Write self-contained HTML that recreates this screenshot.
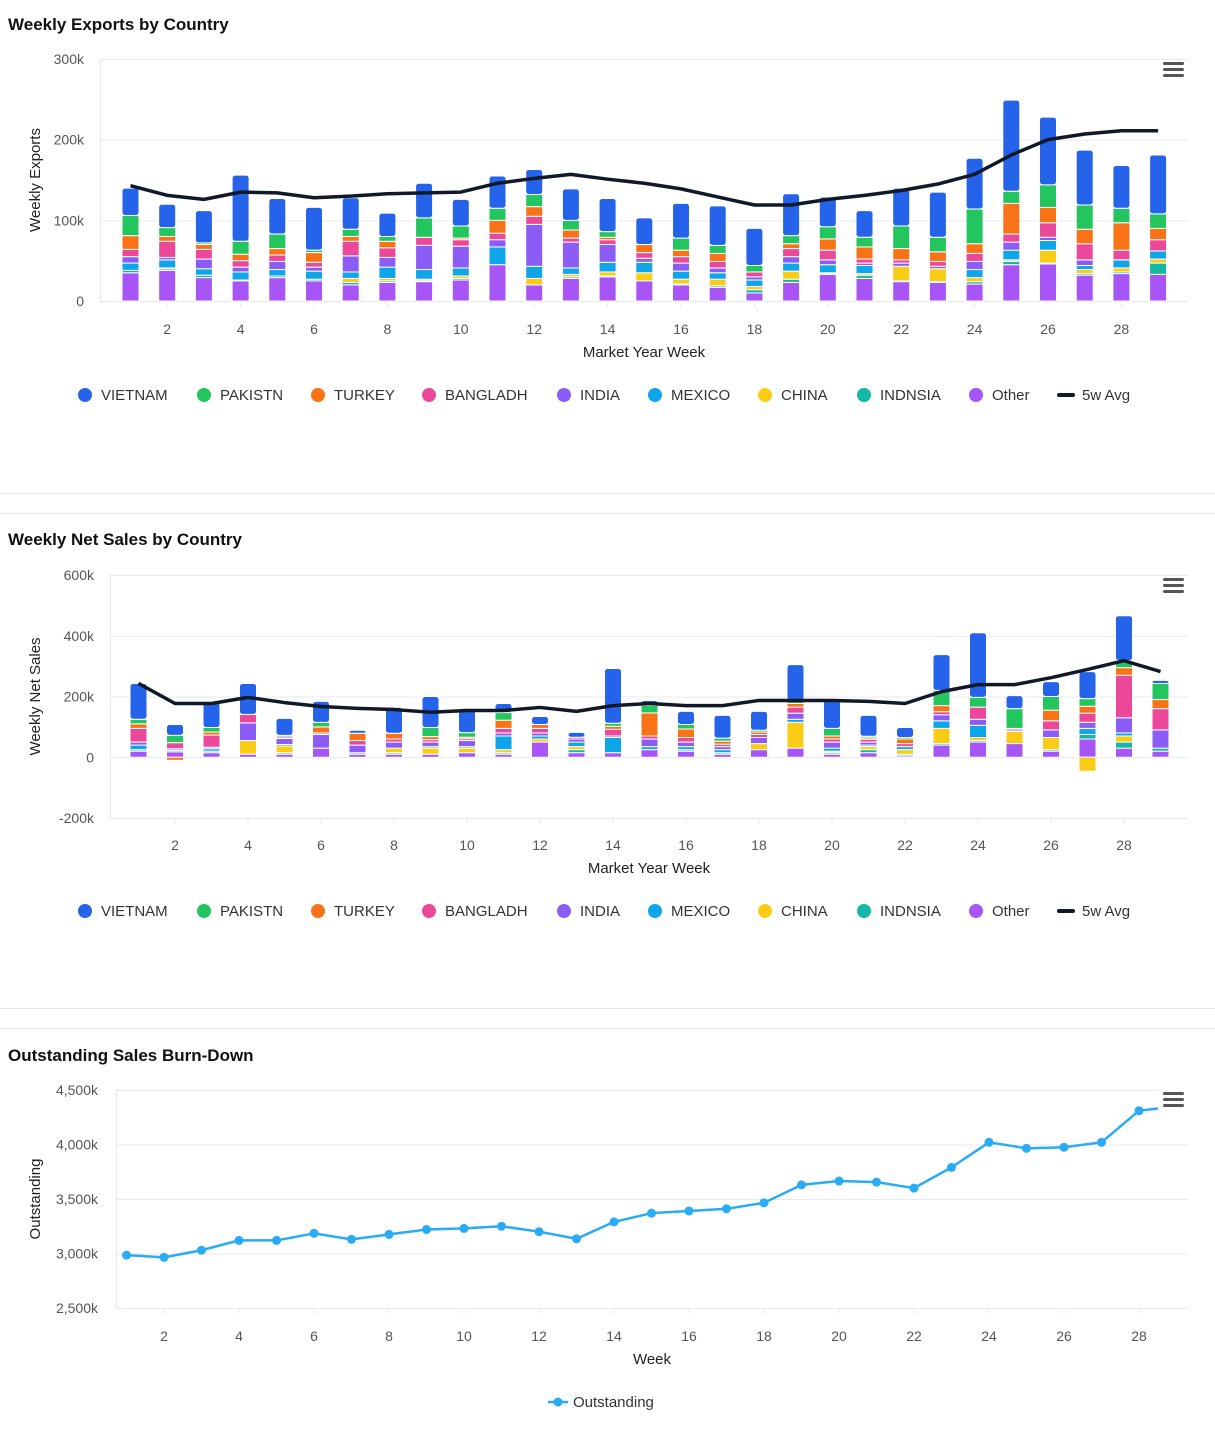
<!DOCTYPE html>
<html><head><meta charset="utf-8">
<style>
body{margin:0;background:#fff;font-family:"Liberation Sans",sans-serif;}
svg{display:block}
text{font-family:"Liberation Sans",sans-serif;}
</style></head>
<body>
<svg id="root" width="1215" height="1435" viewBox="0 0 1215 1435">
<line x1="0" y1="493.5" x2="1215" y2="493.5" stroke="#e5e7eb"/>
<line x1="0" y1="513.5" x2="1215" y2="513.5" stroke="#e5e7eb"/>
<line x1="0" y1="1008.5" x2="1215" y2="1008.5" stroke="#e5e7eb"/>
<line x1="0" y1="1028.5" x2="1215" y2="1028.5" stroke="#e5e7eb"/>
</svg>
<script>
const weeks=[1,2,3,4,5,6,7,8,9,10,11,12,13,14,15,16,17,18,19,20,21,22,23,24,25,26,27,28,29];
const seriesNames=["Other","INDNSIA","CHINA","MEXICO","INDIA","BANGLADH","TURKEY","PAKISTN","VIETNAM"];
const legendNames=["VIETNAM","PAKISTN","TURKEY","BANGLADH","INDIA","MEXICO","CHINA","INDNSIA","Other"];
const colors={VIETNAM:"#2563eb",PAKISTN:"#22c55e",TURKEY:"#f97316",BANGLADH:"#ec4899",INDIA:"#8b5cf6",MEXICO:"#0ea5e9",CHINA:"#facc15",INDNSIA:"#14b8a6",Other:"#a855f7"};
// Chart 1: weekly exports (k)
const ex_Other=[35,38,29,25,29,25,20,23,24,26,45,20,28,30,25,20,17,10,23,33,28,24,23,21,45,46,32,34,33];
const ex_INDNSIA=[3,2,3,1,2,2,3,2,1,2,0,0,2,1,0,1,2,4,4,1,4,1,1,3,4,1,2,2,14];
const ex_CHINA=[0,1,0,0,0,0,5,3,2,3,0,8,3,5,10,6,8,4,10,1,2,18,16,5,2,16,5,5,5];
const ex_MEXICO=[9,10,8,10,8,10,8,14,12,10,22,15,8,12,13,10,8,8,10,10,10,0,0,10,12,12,5,10,10];
const ex_INDIA=[8,3,12,6,10,5,20,12,30,27,9,52,32,22,5,10,6,4,8,6,3,4,3,10,10,4,7,0,0];
const ex_BANGLADH=[9,20,12,8,8,6,18,12,10,8,8,10,5,6,7,8,8,6,10,12,5,4,6,10,10,18,20,12,14];
const ex_TURKEY=[17,6,6,8,8,12,6,8,0,2,16,12,10,3,10,8,10,0,6,14,15,14,12,12,38,19,18,34,14];
const ex_PAKISTN=[25,11,2,16,18,3,9,6,24,15,15,15,12,7,0,15,10,8,10,15,12,28,18,43,15,28,30,18,18];
const ex_VIETNAM=[34,29,40,82,44,53,39,29,43,33,40,31,39,41,33,43,49,46,52,37,33,47,56,63,113,84,68,53,73];
const ex_avg=[143,131,126,135,134,128,130,133,134,135,146,152,157,151,146,139,129,119,119,126,131,137,145,157,181,200,207,211,211];
const ex_ticks=[0,100,200,300];
// Chart 2: weekly net sales (k)
const ns_Other=[20,18,15,10,10,30,10,10,10,15,10,50,15,15,25,20,10,25,30,10,15,5,40,50,45,20,60,30,20];
const ns_INDNSIA=[5,0,5,0,5,0,0,5,0,0,5,0,10,0,0,5,5,0,0,5,10,5,5,5,0,5,15,20,10];
const ns_CHINA=[0,0,0,45,22,0,0,15,20,15,10,10,10,0,0,0,0,20,85,5,10,15,50,10,40,40,-46,20,0];
const ns_MEXICO=[15,5,8,0,5,0,5,0,5,5,45,10,15,50,10,10,10,0,10,10,5,10,25,40,0,0,20,10,0];
const ns_INDIA=[10,5,5,58,20,45,25,20,15,20,10,10,10,5,25,15,10,20,20,20,10,0,20,20,5,25,20,50,60];
const ns_BANGLADH=[45,20,40,28,5,5,15,10,8,6,15,15,6,22,10,15,8,10,20,10,9,10,10,40,5,30,30,140,70];
const ns_TURKEY=[15,-10,10,0,0,20,24,19,10,5,27,13,0,10,76,28,10,8,12,10,5,15,20,0,0,35,23,25,30];
const ns_PAKISTN=[15,24,15,0,5,15,0,0,30,15,25,0,0,10,25,15,10,6,10,25,5,5,50,32,65,45,25,23,53];
const ns_VIETNAM=[118,36,82,102,56,69,10,85,102,80,30,26,16,180,16,43,75,62,118,95,69,33,118,213,43,49,89,148,10];
const ns_avg=[243,177,177,197,180,167,161,157,148,154,154,164,151,170,177,170,170,187,187,187,184,177,216,239,239,262,289,318,282];
const ns_ticks=[-200,0,200,400,600];
// Chart 3: outstanding (k)
const out_vals=[2985,2965,3030,3120,3120,3185,3130,3175,3220,3230,3250,3200,3135,3290,3370,3390,3410,3465,3630,3665,3655,3600,3790,4020,3965,3975,4020,4310,4350];
const out_ticks=[2500,3000,3500,4000,4500];
const xTicks=[2,4,6,8,10,12,14,16,18,20,22,24,26,28];

const NS="http://www.w3.org/2000/svg";
const root=document.getElementById('root');
function el(tag,attrs,parent,txt){const e=document.createElementNS(NS,tag);for(const k in attrs)e.setAttribute(k,attrs[k]);if(txt!==undefined)e.textContent=txt;(parent||root).appendChild(e);return e;}
function fmtK(v){return v===0?"0":v+"k";}
function fmtComma(v){return (v/1000).toFixed(3).replace('.',',')+"k";}

function menu(x,y,name){
  const g=el('g',{});
  
  
  for(let i=0;i<3;i++)el('rect',{x:x,y:y+i*6,width:21,height:3,rx:1.5,fill:'#555'},g);
}

function stackedChart(cfg){
  const {top,bottom,left,right,x1,step,ymin,ymax,ticks,series,avg,title,ytitle,titleY,prefix,legendY,xlabY,xtitleY}=cfg;
  const ys=v=>bottom-(v-ymin)/(ymax-ymin)*(bottom-top);
  const xs=w=>x1+(w-1)*step;
  el('text',{x:8,y:titleY,'font-size':17,'font-weight':'bold',fill:'#111',},null,title);
  const grid=el('g',{});
  ticks.forEach(t=>{
    el('line',{x1:left,x2:right,y1:ys(t)+.5,y2:ys(t)+.5,stroke:'#e5e9f2'},grid);
    const tl=el('text',{x:left-16,y:ys(t)+5,'text-anchor':'end','font-size':14,fill:'#555'},null,fmtK(t));
    
    
  });
  el('line',{x1:left+.5,x2:left+.5,y1:top,y2:bottom,stroke:'#e5e9f2'},grid);
  el('line',{x1:left,x2:right,y1:bottom+.5,y2:bottom+.5,stroke:'#e5e9f2'},grid);
  xTicks.forEach(w=>{
    el('line',{x1:xs(w),x2:xs(w),y1:bottom,y2:bottom+6,stroke:'#e5e9f2'},grid);
    const tl=el('text',{x:xs(w),y:xlabY,'text-anchor':'middle','font-size':14,fill:'#555'},null,String(w));
    
    
  });
  el('text',{x:(left+right)/2,y:xtitleY,'text-anchor':'middle','font-size':15,fill:'#222',},null,'Market Year Week');
  el('text',{transform:`translate(40,${(top+bottom)/2}) rotate(-90)`,'text-anchor':'middle','font-size':15,fill:'#222',},null,ytitle);
  const bw=17;
  weeks.forEach((w,i)=>{
    let pos=0,neg=0;
    const g=el('g',{});
    
    
    seriesNames.forEach((s,si)=>{
      const v=series[s][i]; if(!v)return;
      let y0,y1;
      if(v>0){y0=ys(pos);pos+=v;y1=ys(pos);}else{y0=ys(neg);neg+=v;y1=ys(neg);}
      const r=el('rect',{x:xs(w)-bw/2,y:Math.min(y0,y1),width:bw,height:Math.abs(y1-y0),fill:colors[s],stroke:'#fff','stroke-width':1,rx:(s==='VIETNAM'?3:0)},g);
      
      
    });
  });
  const d=avg.map((v,i)=>(i?'L':'M')+xs(weeks[i])+','+ys(v)).join(' ');
  const p=el('path',{d:d,fill:'none',stroke:'#111827','stroke-width':3.5,'stroke-linejoin':'round'});
  
  
  menu(1163,top+3,prefix+'-menu-button');
  const lg=el('g',{});
  
  
  const lx=[85,204,318,429,564,655,765,864,976,1066];
  legendNames.forEach((n,i)=>{
    const it=el('g',{},lg);
    
    
    el('circle',{cx:lx[i],cy:legendY-5,r:7,fill:colors[n]},it);
    el('text',{x:lx[i]+16,y:legendY,'font-size':15,fill:'#333'},it,n);
  });
  const it=el('g',{},lg);
  
  
  el('rect',{x:lx[9]-9,y:legendY-7,width:18,height:4,rx:2,fill:'#111827'},it);
  el('text',{x:lx[9]+16,y:legendY,'font-size':15,fill:'#333'},it,'5w Avg');
}

stackedChart({top:59,bottom:301,left:100,right:1188,x1:130.5,step:36.7,ymin:0,ymax:300,ticks:ex_ticks,
  series:{Other:ex_Other,INDNSIA:ex_INDNSIA,CHINA:ex_CHINA,MEXICO:ex_MEXICO,INDIA:ex_INDIA,BANGLADH:ex_BANGLADH,TURKEY:ex_TURKEY,PAKISTN:ex_PAKISTN,VIETNAM:ex_VIETNAM},
  avg:ex_avg,title:'Weekly Exports by Country',ytitle:'Weekly Exports',titleY:30,prefix:'exports',legendY:400,xlabY:334,xtitleY:357});
stackedChart({top:575,bottom:818,left:110,right:1188,x1:138.5,step:36.5,ymin:-200,ymax:600,ticks:ns_ticks,
  series:{Other:ns_Other,INDNSIA:ns_INDNSIA,CHINA:ns_CHINA,MEXICO:ns_MEXICO,INDIA:ns_INDIA,BANGLADH:ns_BANGLADH,TURKEY:ns_TURKEY,PAKISTN:ns_PAKISTN,VIETNAM:ns_VIETNAM},
  avg:ns_avg,title:'Weekly Net Sales by Country',ytitle:'Weekly Net Sales',titleY:545,prefix:'net-sales',legendY:916,xlabY:850,xtitleY:873});

(function(){
  const top=1090,bottom=1308,left=116,right=1188,x1=126.5,step=37.5,ymin=2500,ymax=4500;
  const ys=v=>bottom-(v-ymin)/(ymax-ymin)*(bottom-top);
  const xs=w=>x1+(w-1)*step;
  el('text',{x:8,y:1061,'font-size':17,'font-weight':'bold',fill:'#111',},null,'Outstanding Sales Burn-Down');
  const grid=el('g',{});
  out_ticks.forEach(t=>{
    el('line',{x1:left,x2:right,y1:ys(t)+.5,y2:ys(t)+.5,stroke:'#e5e9f2'},grid);
    const tl=el('text',{x:left-18,y:ys(t)+5,'text-anchor':'end','font-size':14,fill:'#555'},null,fmtComma(t));
    
    
  });
  el('line',{x1:left+.5,x2:left+.5,y1:top,y2:bottom,stroke:'#e5e9f2'},grid);
  xTicks.forEach(w=>{
    el('line',{x1:xs(w),x2:xs(w),y1:bottom,y2:bottom+6,stroke:'#e5e9f2'},grid);
    const tl=el('text',{x:xs(w),y:1341,'text-anchor':'middle','font-size':14,fill:'#555'},null,String(w));
    
    
  });
  el('text',{x:652,y:1364,'text-anchor':'middle','font-size':15,fill:'#222',},null,'Week');
  el('text',{transform:`translate(40,1199) rotate(-90)`,'text-anchor':'middle','font-size':15,fill:'#222',},null,'Outstanding');
  const d=out_vals.map((v,i)=>(i?'L':'M')+xs(weeks[i])+','+ys(v)).join(' ');
  const p=el('path',{d:d,fill:'none',stroke:'#29abf5','stroke-width':2.5});
  
  
  out_vals.forEach((v,i)=>{
    const c=el('circle',{cx:xs(weeks[i]),cy:ys(v),r:4.5,fill:'#29abf5'});
    
    
  });
  el('rect',{x:1158,y:1088,width:30,height:28,fill:'#fff'});
  menu(1163,1092,'outstanding-menu-button');
  const lg=el('g',{});
  
  
  el('line',{x1:548,x2:568,y1:1402,y2:1402,stroke:'#29abf5','stroke-width':2.5},lg);
  el('circle',{cx:558,cy:1402,r:4.5,fill:'#29abf5'},lg);
  el('text',{x:573,y:1407,'font-size':15,fill:'#333'},lg,'Outstanding');
})();
</script>
</body></html>
